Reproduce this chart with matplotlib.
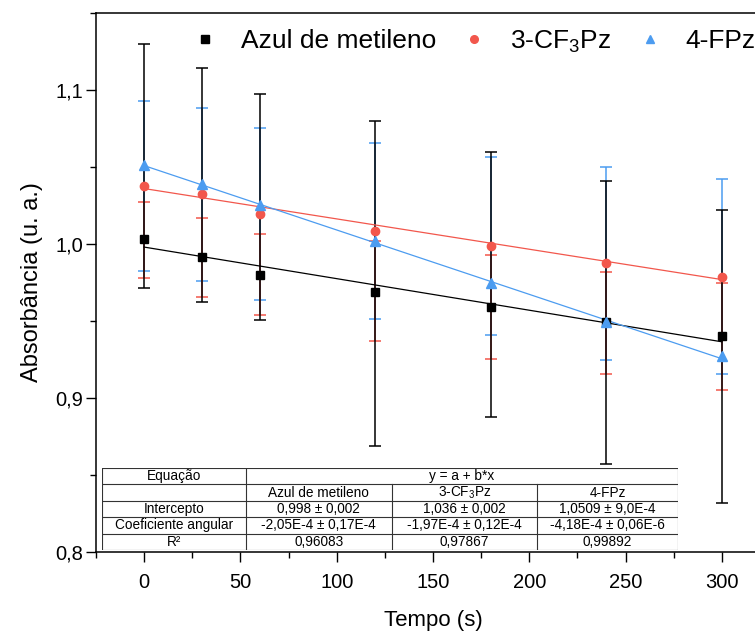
import numpy as np
import matplotlib
matplotlib.use("Agg")
import matplotlib.pyplot as plt
from matplotlib.ticker import MultipleLocator, FuncFormatter
from matplotlib.lines import Line2D

plt.rcParams['font.family'] = ['Liberation Sans', 'DejaVu Sans']

# tempo (s)
tempo = [0, 30, 60, 120, 180, 240, 300]

# absorbancia medida
azul = [1.0031, 0.9913, 0.9799, 0.9690, 0.9589, 0.9494, 0.9403]
cf3 = [1.0377, 1.0325, 1.0195, 1.0086, 0.9989, 0.9875, 0.9788]
fpz = [1.0513, 1.0388, 1.0253, 1.0020, 0.9745, 0.9496, 0.9275]

# extremos das barras de erro (inferior, superior)
azul_lo = [0.9716, 0.9625, 0.9506, 0.8690, 0.8879, 0.8569, 0.8316]
azul_hi = [1.1299, 1.1145, 1.0976, 1.0800, 1.0595, 1.0409, 1.0221]
cf3_lo = [0.9781, 0.9658, 0.9539, 0.9370, 0.9251, 0.9154, 0.9052]
cf3_hi = [1.0275, 1.0167, 1.0065, 1.0020, 0.9929, 0.9820, 0.9749]
fpz_lo = [0.9823, 0.9762, 0.9636, 0.9511, 0.9409, 0.9247, 0.9154]
fpz_hi = [1.0931, 1.0881, 1.0755, 1.0658, 1.0567, 1.0502, 1.0420]

# ajuste linear y = a + b*x
intercepto = [0.998, 1.036, 1.0509]
inclinacao = [-2.05e-4, -1.97e-4, -4.18e-4]

nomes = ['Azul de metileno', '3-CF$_\\mathregular{3}$Pz', '4-FPz']
cores = ['black', '#F2574C', '#4C9CF0']
marcadores = ['s', 'o', '^']

tabela = [
    ['Intercepto', '0,998 ± 0,002', '1,036 ± 0,002', '1,0509 ± 9,0E-4'],
    ['Coeficiente angular', '-2,05E-4 ± 0,17E-4', '-1,97E-4 ± 0,12E-4', '-4,18E-4 ± 0,06E-6'],
    ['R²', '0,96083', '0,97867', '0,99892'],
]

fig = plt.figure(figsize=(7.55, 6.37), dpi=100)
ax = fig.add_axes([96 / 755, 1 - 552 / 637, 674 / 755, 539 / 637])

t = np.array(tempo)
series = [(azul, azul_lo, azul_hi), (cf3, cf3_lo, cf3_hi), (fpz, fpz_lo, fpz_hi)]

# barras de erro: azul e vermelho embaixo, preto por cima
for i in [2, 1, 0]:
    y, lo, hi = series[i]
    lo = np.array(lo)
    hi = np.array(hi)
    ax.errorbar(t, (lo + hi) / 2, yerr=(hi - lo) / 2, fmt='none', ecolor=cores[i],
                elinewidth=1.1, capsize=4.5, capthick=1.1, zorder=2 + (2 - i))

tt = np.linspace(0, 300, 50)
for i in range(3):
    ax.plot(tt, intercepto[i] + inclinacao[i] * tt, color=cores[i], lw=0.9, zorder=5)

handles = []
for i in range(3):
    y = series[i][0]
    ms = 6.5 if marcadores[i] == '^' else 6
    ax.plot(t, y, linestyle='none', marker=marcadores[i], color=cores[i], ms=ms, zorder=6)
    handles.append(Line2D([], [], linestyle='none', marker=marcadores[i], color=cores[i], ms=5.5))

ax.set_xlim(-25, 325)
ax.set_ylim(0.8, 1.15)
ax.xaxis.set_major_locator(MultipleLocator(50))
ax.xaxis.set_minor_locator(MultipleLocator(25))
ax.yaxis.set_major_locator(MultipleLocator(0.1))
ax.yaxis.set_minor_locator(MultipleLocator(0.05))
ax.yaxis.set_major_formatter(FuncFormatter(lambda v, p: f"{v:.1f}".replace('.', ',')))
ax.tick_params(which='major', direction='out', length=7, width=1, labelsize=14.5)
ax.tick_params(which='minor', direction='out', length=4, width=1)
ax.tick_params(axis='x', which='major', pad=8)
ax.tick_params(axis='y', which='major', pad=2)
for s in ax.spines.values():
    s.set_linewidth(1.1)
ax.set_xlabel('Tempo (s)', fontsize=16, labelpad=13)
ax.set_ylabel('Absorbância (u. a.)', fontsize=17, labelpad=9)

ax.legend(handles, nomes, ncol=3, loc='upper left', bbox_to_anchor=(0.1424, 0.972),
          frameon=False, fontsize=19, handlelength=1.0, handletextpad=0.86,
          columnspacing=0.94, borderpad=0, borderaxespad=0)

# tabela do ajuste
tab = fig.add_axes([102 / 755, 1 - 550 / 637, 576 / 755, 82 / 637])
tab.set_xlim(0, 1)
tab.set_ylim(0, 5)
tab.axis('off')
tab.patch.set_facecolor('white')
tab.patch.set_visible(True)
cols = [0, 0.25, 0.503, 0.755, 1]
lk = dict(color='#333333', lw=0.8)
for r in range(6):
    tab.plot([0, 1], [r, r], **lk)
tab.plot([0, 0], [0, 5], **lk)
tab.plot([1, 1], [0, 5], **lk)
tab.plot([cols[1], cols[1]], [0, 5], **lk)
for c in cols[2:4]:
    tab.plot([c, c], [0, 4], **lk)
fs = 9.8
tab.text(cols[0] + 0.125, 4.5, 'Equação', ha='center', va='center', fontsize=fs)
tab.text(0.625, 4.5, 'y = a + b*x', ha='center', va='center', fontsize=fs)
for j in range(3):
    tab.text((cols[j + 1] + cols[j + 2]) / 2, 3.5, nomes[j], ha='center', va='center', fontsize=fs)
for r, linha in enumerate(tabela):
    for j, txt in enumerate(linha):
        tab.text((cols[j] + cols[j + 1]) / 2, 2.5 - r, txt, ha='center', va='center', fontsize=fs)

fig.savefig('out.png', dpi=100)
